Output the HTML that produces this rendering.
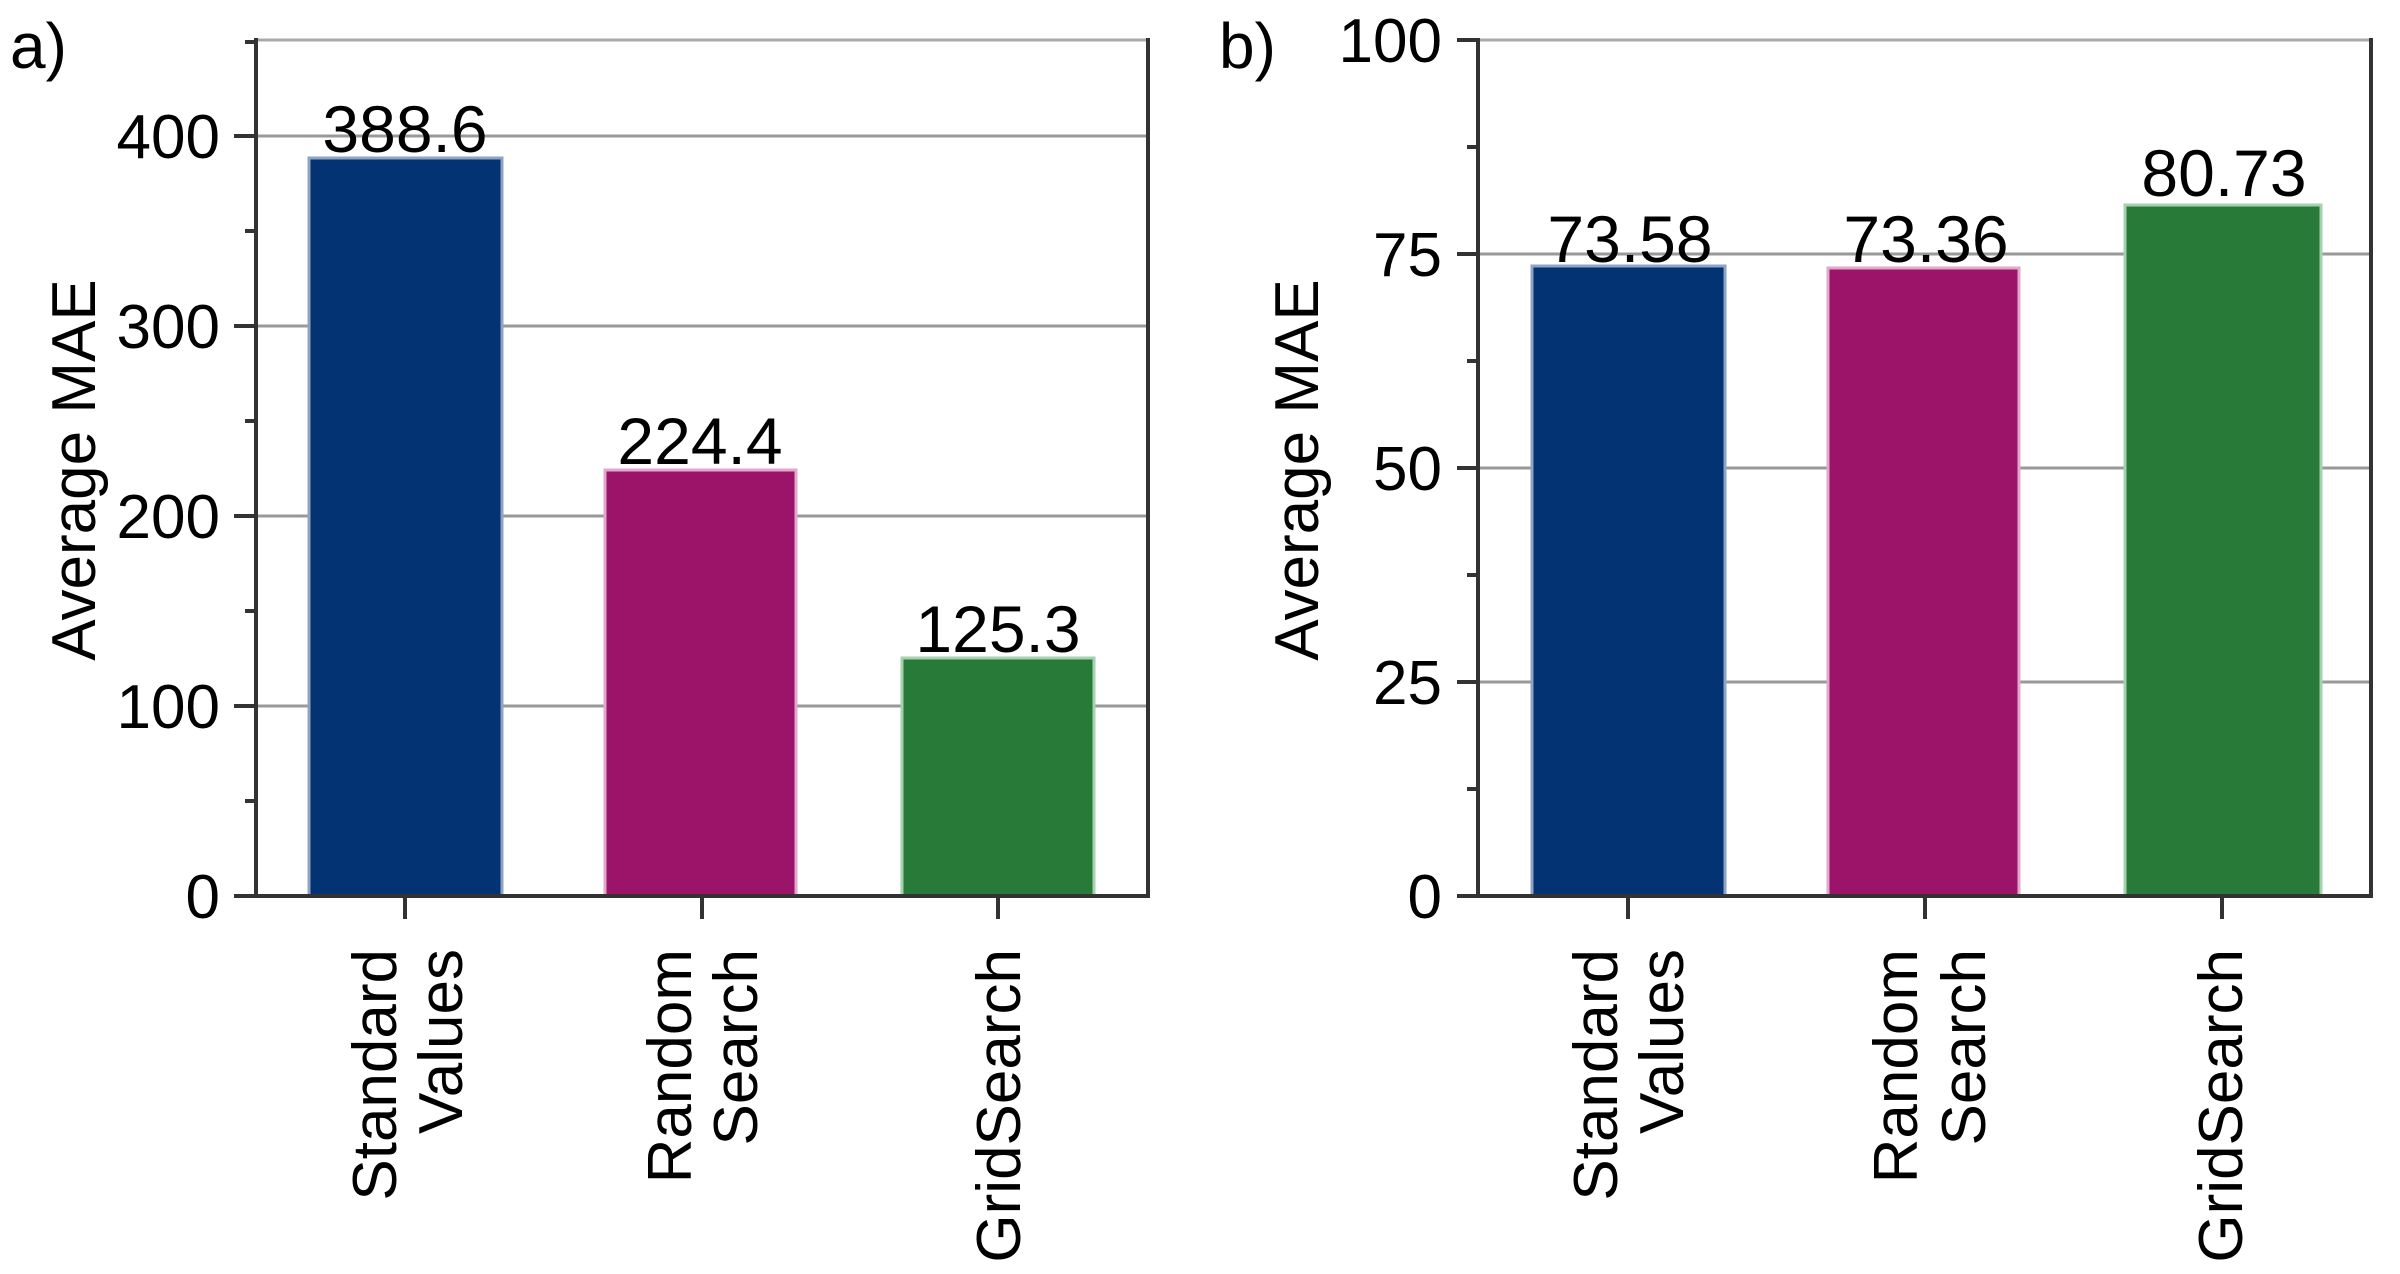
<!DOCTYPE html>
<html><head><meta charset="utf-8"><style>html,body{margin:0;padding:0;background:#fff}svg{display:block}</style></head>
<body>
<svg width="2400" height="1274" viewBox="0 0 2400 1274" xmlns="http://www.w3.org/2000/svg" font-family="Liberation Sans, Arial, sans-serif" fill="#000">
<!-- Panel a -->
<g>
<line x1="256" y1="40" x2="1148" y2="40" stroke="#aaa" stroke-width="3"/>
<g stroke="#999" stroke-width="3">
<line x1="256" y1="136" x2="1148" y2="136"/>
<line x1="256" y1="326" x2="1148" y2="326"/>
<line x1="256" y1="516" x2="1148" y2="516"/>
<line x1="256" y1="706" x2="1148" y2="706"/>
</g>
<rect x="309" y="158" width="193" height="738" fill="#033372" stroke="#8fa3c4" stroke-width="3"/>
<rect x="605" y="470" width="191" height="426" fill="#9c136a" stroke="#e2a8cc" stroke-width="3"/>
<rect x="902" y="658" width="192" height="238" fill="#287a38" stroke="#a6d0ae" stroke-width="3"/>
<g stroke="#333" stroke-width="4">
<line x1="256" y1="38" x2="256" y2="898"/>
<line x1="1148" y1="38" x2="1148" y2="898"/>
<line x1="234" y1="896" x2="1150" y2="896"/>
<line x1="234" y1="136" x2="256" y2="136"/>
<line x1="234" y1="326" x2="256" y2="326"/>
<line x1="234" y1="516" x2="256" y2="516"/>
<line x1="234" y1="706" x2="256" y2="706"/>
<line x1="245" y1="231" x2="256" y2="231"/>
<line x1="245" y1="421" x2="256" y2="421"/>
<line x1="245" y1="611" x2="256" y2="611"/>
<line x1="245" y1="801" x2="256" y2="801"/>
<line x1="245" y1="42" x2="256" y2="42"/>
<line x1="405" y1="896" x2="405" y2="919"/>
<line x1="702" y1="896" x2="702" y2="919"/>
<line x1="998" y1="896" x2="998" y2="919"/>
</g>
<g font-size="62" text-anchor="end">
<text x="220" y="158">400</text>
<text x="220" y="348">300</text>
<text x="220" y="538">200</text>
<text x="220" y="728">100</text>
<text x="220" y="918">0</text>
</g>
<g font-size="66" text-anchor="middle">
<text x="405" y="152">388.6</text>
<text x="700" y="464">224.4</text>
<text x="998" y="652">125.3</text>
</g>
<text x="10" y="68" font-size="64">a)</text>
<text transform="translate(95,470) rotate(-90)" font-size="62" text-anchor="middle">Average MAE</text>
<g font-size="62" text-anchor="end">
<text transform="translate(396,949) rotate(-90)">Standard</text>
<text transform="translate(462,949) rotate(-90)">Values</text>
<text transform="translate(691,949) rotate(-90)">Random</text>
<text transform="translate(757,949) rotate(-90)">Search</text>
<text transform="translate(1020,949) rotate(-90)">GridSearch</text>
</g>
</g>
<!-- Panel b -->
<g>
<line x1="1478" y1="40" x2="2371" y2="40" stroke="#aaa" stroke-width="3"/>
<g stroke="#999" stroke-width="3">
<line x1="1478" y1="254" x2="2371" y2="254"/>
<line x1="1478" y1="468" x2="2371" y2="468"/>
<line x1="1478" y1="682" x2="2371" y2="682"/>
</g>
<rect x="1532" y="266" width="193" height="630" fill="#033372" stroke="#8fa3c4" stroke-width="3"/>
<rect x="1828" y="268" width="191" height="628" fill="#9c136a" stroke="#e2a8cc" stroke-width="3"/>
<rect x="2125" y="205" width="196" height="691" fill="#287a38" stroke="#a6d0ae" stroke-width="3"/>
<g stroke="#333" stroke-width="4">
<line x1="1478" y1="38" x2="1478" y2="898"/>
<line x1="2371" y1="38" x2="2371" y2="898"/>
<line x1="1457" y1="896" x2="2373" y2="896"/>
<line x1="1457" y1="40" x2="1478" y2="40"/>
<line x1="1457" y1="254" x2="1478" y2="254"/>
<line x1="1457" y1="468" x2="1478" y2="468"/>
<line x1="1457" y1="682" x2="1478" y2="682"/>
<line x1="1467" y1="147" x2="1478" y2="147"/>
<line x1="1467" y1="361" x2="1478" y2="361"/>
<line x1="1467" y1="575" x2="1478" y2="575"/>
<line x1="1467" y1="789" x2="1478" y2="789"/>
<line x1="1628" y1="896" x2="1628" y2="919"/>
<line x1="1925" y1="896" x2="1925" y2="919"/>
<line x1="2222" y1="896" x2="2222" y2="919"/>
</g>
<g font-size="62" text-anchor="end">
<text x="1442" y="62">100</text>
<text x="1442" y="276">75</text>
<text x="1442" y="490">50</text>
<text x="1442" y="704">25</text>
<text x="1442" y="918">0</text>
</g>
<g font-size="66" text-anchor="middle">
<text x="1630" y="262">73.58</text>
<text x="1926" y="262">73.36</text>
<text x="2224" y="196">80.73</text>
</g>
<text x="1219" y="68" font-size="64">b)</text>
<text transform="translate(1318,470) rotate(-90)" font-size="62" text-anchor="middle">Average MAE</text>
<g font-size="62" text-anchor="end">
<text transform="translate(1617,949) rotate(-90)">Standard</text>
<text transform="translate(1683,949) rotate(-90)">Values</text>
<text transform="translate(1917,949) rotate(-90)">Random</text>
<text transform="translate(1985,949) rotate(-90)">Search</text>
<text transform="translate(2242,949) rotate(-90)">GridSearch</text>
</g>
</g>
</svg>
</body></html>
